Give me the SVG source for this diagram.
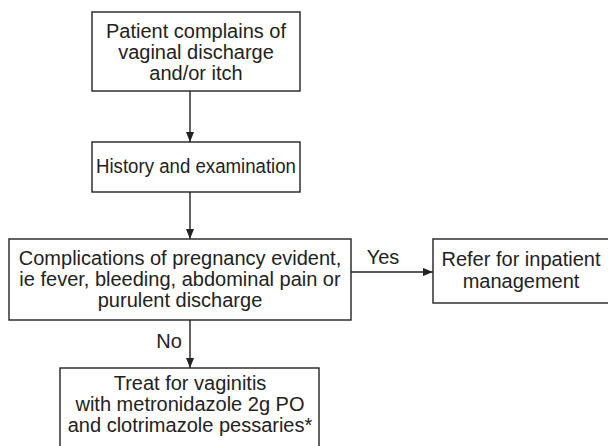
<svg xmlns="http://www.w3.org/2000/svg" width="608" height="446" viewBox="0 0 608 446">
<defs>
<marker id="ah" markerWidth="10" markerHeight="8" refX="10" refY="4" orient="auto" markerUnits="userSpaceOnUse">
<path d="M0,0 L10,4 L0,8 Z" fill="#222"/>
</marker>
<style>
.box{fill:#fff;stroke:#222;stroke-width:1.4}
.t{font-family:"Liberation Sans",Arial,sans-serif;font-size:20px;fill:#222;text-anchor:middle}
.edge{stroke:#222;stroke-width:1.4;fill:none;marker-end:url(#ah)}
</style>
</defs>
<rect width="608" height="446" fill="#fff"/>
<g id="connectors">
<line class="edge" x1="190" y1="91" x2="190" y2="142"/>
<line class="edge" x1="190" y1="192" x2="190" y2="239"/>
<line class="edge" x1="351" y1="272" x2="433" y2="272"/>
<line class="edge" x1="190" y1="320" x2="190" y2="368"/>
<text class="t" x="383" y="264">Yes</text>
<text class="t" x="169" y="348">No</text>
</g>
<g id="n1">
<rect class="box" x="92" y="12" width="208" height="79"/>
<text class="t" x="196" y="38">Patient complains of</text>
<text class="t" x="196" y="59">vaginal discharge</text>
<text class="t" x="196" y="80">and/or itch</text>
</g>
<g id="n2">
<rect class="box" x="92" y="142" width="208" height="50"/>
<text class="t" x="196" y="173" textLength="200" lengthAdjust="spacingAndGlyphs">History and examination</text>
</g>
<g id="n3">
<rect class="box" x="9" y="239" width="342" height="81"/>
<text class="t" x="180" y="265">Complications of pregnancy evident,</text>
<text class="t" x="180" y="286">ie fever, bleeding, abdominal pain or</text>
<text class="t" x="180" y="307">purulent discharge</text>
</g>
<g id="n4">
<rect class="box" x="433" y="239" width="180" height="64"/>
<text class="t" x="521" y="266">Refer for inpatient</text>
<text class="t" x="521" y="288">management</text>
</g>
<g id="n5">
<rect class="box" x="60" y="368" width="259" height="90"/>
<text class="t" x="190" y="390">Treat for vaginitis</text>
<text class="t" x="190" y="411">with metronidazole 2g PO</text>
<text class="t" x="190" y="432">and clotrimazole pessaries*</text>
</g>
</svg>
